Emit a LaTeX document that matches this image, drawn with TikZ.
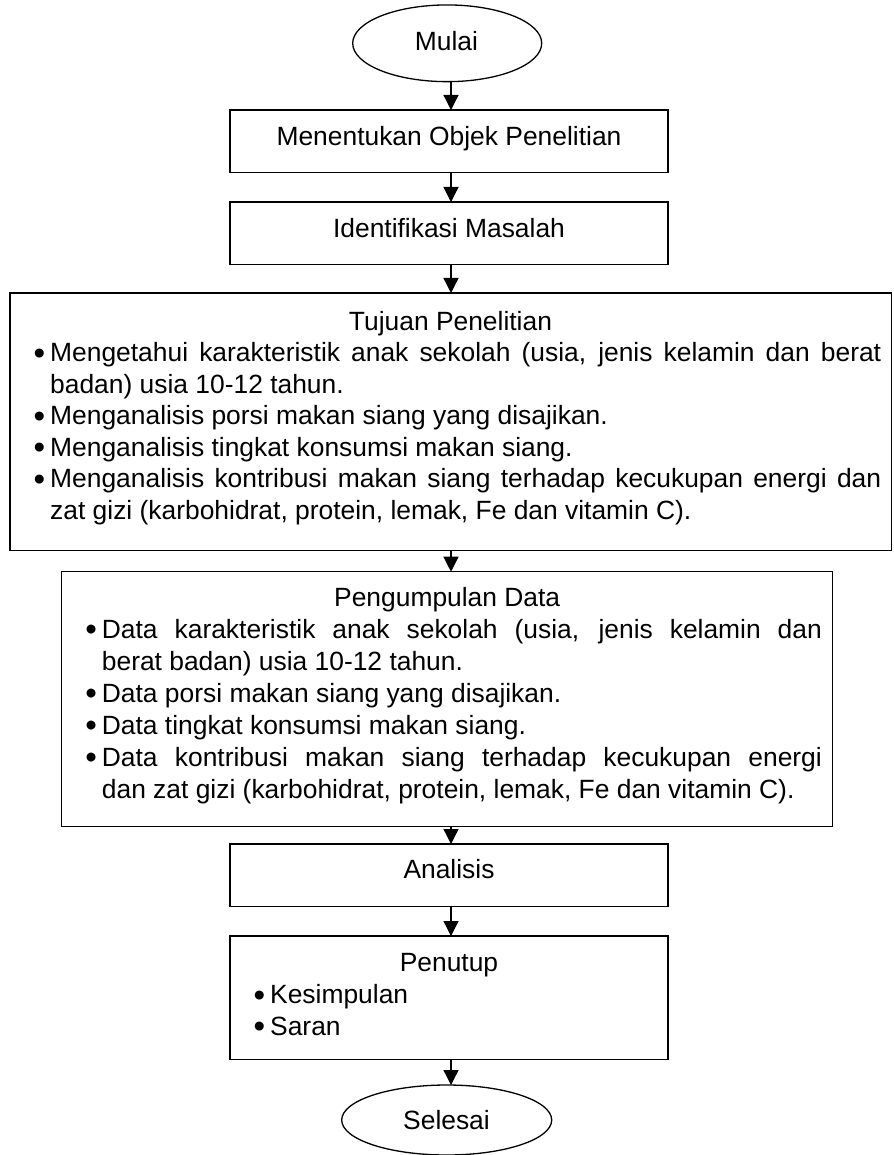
\documentclass[tikz,border=0pt]{standalone}
\usepackage{fontspec}
\setmainfont{Liberation Sans}
\usetikzlibrary{arrows.meta,shapes.geometric}
\newcommand{\bitem}[1]{\noindent\hangindent=15pt\hangafter=1\relax\makebox[15pt][l]{\kern-1.5pt\raisebox{-2.6pt}{\scalebox{1.25}{\textbullet}}}#1\par}
\newcommand{\lbox}[2]{\parbox[t]{#1}{\hyphenpenalty=10000 \exhyphenpenalty=10000 \parindent=0pt \parskip=0pt\relax #2}}
\tikzset{
  box/.style={draw, line width=1.3pt, rectangle, inner sep=0pt, outer sep=0pt},
  oval/.style={draw, line width=1.3pt, ellipse, inner sep=0pt, outer sep=0pt},
  txt/.style={inner sep=0pt, font=\fontsize{26.4}{31.5}\selectfont},
  lst/.style={inner sep=0pt, anchor=base west, font=\fontsize{26.4}{31.5}\selectfont},
  arr/.style={line width=1.3pt, -{Triangle[length=15pt,width=15pt]}}
}
\begin{document}
\begin{tikzpicture}[x=1pt,y=-1pt]
\fill[white] (0,0) rectangle (893,1155);
\useasboundingbox (0,0) rectangle (893,1155);
\coordinate (ax) at (451,0);

% shapes
\node[oval, minimum width=189pt, minimum height=76.7pt] (mulai) at (447.2,43.3) {};
\node[box, minimum width=438pt, minimum height=62.7pt] (b1) at (449,141.35) {};
\node[box, minimum width=438pt, minimum height=62.2pt] (b2) at (449,233.1) {};
\node[box, minimum width=881.5pt, minimum height=257.7pt] (b3) at (450.75,421.85) {};
\node[box, minimum width=771pt, minimum height=255pt] (b4) at (447.2,699.2) {};
\node[box, minimum width=438pt, minimum height=62.3pt] (b5) at (449,875.15) {};
\node[box, minimum width=438pt, minimum height=123.3pt] (b6) at (449,997.65) {};
\node[oval, minimum width=210pt, minimum height=70pt] (selesai) at (446.7,1120) {};

% texts
\node[txt, anchor=base] (tmulai) at (446.5,50.7) {Mulai};
\node[txt, anchor=base] (t1) at (449,145.5) {Menentukan Objek Penelitian};
\node[txt, anchor=base] (t2) at (449,237.7) {Identifikasi Masalah};
\node[txt, anchor=base] (t3) at (450.5,330) {Tujuan Penelitian};
\node[lst] (l3) at (35,361.5) {\lbox{846pt}{%
\bitem{Mengetahui karakteristik anak sekolah (usia, jenis kelamin dan berat\linebreak badan) usia 10-12 tahun.}
\bitem{Menganalisis porsi makan siang yang disajikan.}
\bitem{Menganalisis tingkat konsumsi makan siang.}
\bitem{Menganalisis kontribusi makan siang terhadap kecukupan energi dan\linebreak zat gizi (karbohidrat, protein, lemak, Fe dan vitamin C).}}};
\node[txt, anchor=base] (t4) at (447.2,606) {Pengumpulan Data};
\node[lst, font=\fontsize{26.4}{32}\selectfont] (l4) at (86.7,638.3) {\lbox{735pt}{%
\bitem{Data karakteristik anak sekolah (usia, jenis kelamin dan\linebreak berat badan) usia 10-12 tahun.}
\bitem{Data porsi makan siang yang disajikan.}
\bitem{Data tingkat konsumsi makan siang.}
\bitem{Data kontribusi makan siang terhadap kecukupan energi\linebreak dan zat gizi (karbohidrat, protein, lemak, Fe dan vitamin C).}}};
\node[txt, anchor=base] (t5) at (449,878.3) {Analisis};
\node[txt, anchor=base] (t6) at (449,971) {Penutup};
\node[lst] (l6) at (255,1003.5) {\lbox{300pt}{%
\bitem{Kesimpulan}
\bitem{Saran}}};
\node[txt, anchor=base] (tselesai) at (446.5,1129.3) {Selesai};

% connectors
\draw[arr] (mulai.south -| ax) -- (b1.north -| ax);
\draw[arr] (b1.south -| ax) -- (b2.north -| ax);
\draw[arr] (b2.south -| ax) -- (b3.north -| ax);
\draw[arr] (b3.south -| ax) -- (b4.north -| ax);
\draw[arr] (b4.south -| ax) -- (b5.north -| ax);
\draw[arr] (b5.south -| ax) -- (b6.north -| ax);
\draw[arr] (b6.south -| ax) -- (selesai.north -| ax);
\end{tikzpicture}
\end{document}
